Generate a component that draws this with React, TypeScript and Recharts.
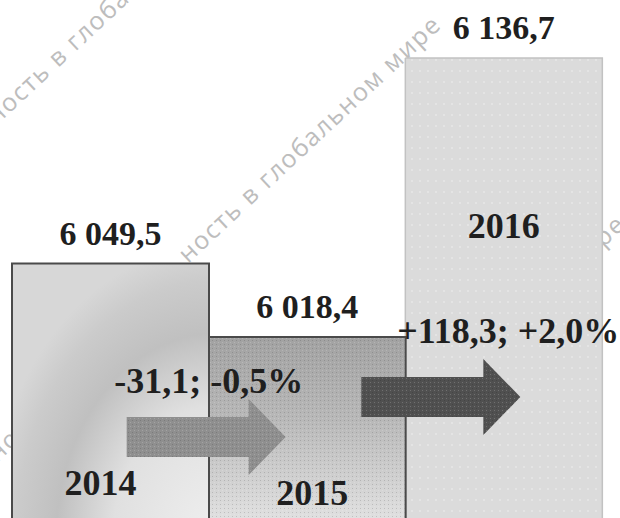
import React from 'react'
import { BarChart, Bar, XAxis, YAxis, LabelList, Customized } from 'recharts'

// Volume by year
const years = ['2014', '2015', '2016']
const volumes = [6049.5, 6018.4, 6136.7]
// year-on-year change: absolute and percent
const changeAbs = [-31.1, 118.3]
const changePct = [-0.5, 2.0]

const data = years.map((year, i) => ({ year, value: volumes[i] }))

const SERIF = "'Liberation Serif', 'Times New Roman', serif"
const TEXT = '#1f1f1f'

// layout of the year captions (baseline y, shift from bar centre) and the change arrows
const yearLabelPos: Record<string, { y: number; dx: number }> = {
  '2014': { y: 495, dx: -10 },
  '2015': { y: 505, dx: 5 },
  '2016': { y: 238, dx: 0 },
}
const arrowLayout = [
  { tipDx: 77, cyUp: 81, labelDx: 0, labelUp: 125, color: '#8f8f8f' },
  { tipDx: 115, cyUp: 121, labelDx: 103, labelUp: 175, color: '#505050' },
]

const barStyles = [
  { fill: 'url(#g2014)', texture: '', stroke: '#4a4a4a', width: 2 },
  { fill: 'url(#g2015)', texture: 'url(#dither)', stroke: '#4a4a4a', width: 2 },
  { fill: '#dbdbdb', texture: 'url(#dots)', stroke: '#c2c2c2', width: 1.5 },
]

const fmt = (v: number, sign = false) => {
  const [int, dec] = Math.abs(v).toFixed(1).split('.')
  const grouped = int.replace(/\B(?=(\d{3})+(?!\d))/g, ' ')
  const s = v < 0 ? '-' : sign ? '+' : ''
  return `${s}${grouped},${dec}`
}

const box = (p: any) => {
  const vb = p.viewBox ?? p
  return { x: Number(vb.x), y: Number(vb.y), w: Number(vb.width), h: Number(vb.height) }
}

const watermark = [
  { x: -4, y: 126, text: 'ность в глобальном мире', anchor: 'start' },
  { x: 188, y: 264, text: 'ность в глобальном мире', anchor: 'start' },
  { x: 627, y: 226, text: 'в глобальном мире', anchor: 'end' },
  { x: -3, y: 463, text: 'ность', anchor: 'start' },
]

const Defs = () => (
  <g>
    <defs>
      <radialGradient id="g2014" cx="1.03" cy="1.08" r="1.15">
        <stop offset="0" stopColor="#efefef" />
        <stop offset="0.45" stopColor="#e0e0e0" />
        <stop offset="0.7" stopColor="#c0c0c0" />
        <stop offset="0.88" stopColor="#cbcbcb" />
        <stop offset="1" stopColor="#d7d7d7" />
      </radialGradient>
      <linearGradient id="g2015" x1="0" y1="0" x2="0" y2="1">
        <stop offset="0" stopColor="#a2a2a2" />
        <stop offset="0.45" stopColor="#b8b8b8" />
        <stop offset="1" stopColor="#e0e0e0" />
      </linearGradient>
      <pattern id="dither" width="4" height="4" patternUnits="userSpaceOnUse">
        <rect x="0" y="0" width="1" height="1" fill="#000" fillOpacity="0.14" />
        <rect x="2" y="2" width="1" height="1" fill="#fff" fillOpacity="0.18" />
      </pattern>
      <pattern id="dots" width="8" height="11" patternUnits="userSpaceOnUse">
        <circle cx="4" cy="5" r="0.8" fill="#f0f0f0" />
      </pattern>
    </defs>
    {watermark.map((w, i) => (
      <text
        key={i}
        x={w.x}
        y={w.y}
        textAnchor={w.anchor as any}
        transform={`rotate(-43 ${w.x} ${w.y})`}
        fontFamily="'Open Sans', sans-serif"
        fontSize={25}
        letterSpacing={1.5}
        fill="#bdbdbd"
      >
        {w.text}
      </text>
    ))}
  </g>
)

const BarShape = (props: any) => {
  const { x, y, width, height, index } = props
  const s = barStyles[index]
  return (
    <g>
      <rect x={x} y={y} width={width} height={height} fill={s.fill} />
      {s.texture && <rect x={x} y={y} width={width} height={height} fill={s.texture} />}
      {index === 2 && (
        <line x1={x} y1={y} x2={x} y2={y + height} stroke={s.stroke} strokeWidth={s.width} />
      )}
    </g>
  )
}

const Outline = (props: any) => {
  const { x, y, w, h } = box(props)
  const s = barStyles[props.index]
  const d =
    props.index === 0
      ? `M${x},${y + h} V${y} H${x + w} V${y + h}`
      : `M${x},${y} H${x + w} V${y + h}`
  return <path d={d} fill="none" stroke={s.stroke} strokeWidth={s.width} />
}

const ChangeArrow = (props: any) => {
  const i = props.index - 1
  if (i < 0) return null
  const { x, y, h } = box(props)
  const a = arrowLayout[i]
  const bottom = y + h
  const tip = x + a.tipDx
  const cy = bottom - a.cyUp
  const tail = tip - 159
  const d = `M${tail},${cy - 20} H${tip - 37} V${cy - 38} L${tip},${cy} L${tip - 37},${cy + 38} V${cy + 20} H${tail} Z`
  return (
    <g>
      <path d={d} fill={a.color} />
      <path d={d} fill="url(#dither)" />
      <text
        x={x + a.labelDx}
        y={bottom - a.labelUp}
        textAnchor="middle"
        fontFamily={SERIF}
        fontWeight="bold"
        fontSize={36}
        fill={TEXT}
      >
        {`${fmt(changeAbs[i], true)}; ${fmt(changePct[i], true)}%`}
      </text>
    </g>
  )
}

const ValueLabel = (props: any) => {
  const { x, y, w } = box(props)
  return (
    <text
      x={x + w / 2}
      y={y - 19}
      textAnchor="middle"
      fontFamily={SERIF}
      fontWeight="bold"
      fontSize={34}
      fill={TEXT}
    >
      {fmt(Number(props.value))}
    </text>
  )
}

const YearLabel = (props: any) => {
  const { x, w } = box(props)
  const pos = yearLabelPos[props.value]
  return (
    <text
      x={x + w / 2 + pos.dx}
      y={pos.y}
      textAnchor="middle"
      fontFamily={SERIF}
      fontWeight="bold"
      fontSize={36}
      fill={TEXT}
    >
      {props.value}
    </text>
  )
}

export default function App() {
  return (
    <div style={{ position: 'absolute', left: 0, top: 0, width: 620, height: 518, background: '#fff' }}>
      <BarChart
        width={620}
        height={518}
        data={data}
        margin={{ top: 0, right: 18, bottom: 0, left: 12 }}
        barCategoryGap={0}
      >
        <Customized component={<Defs />} />
        <XAxis dataKey="year" hide />
        <YAxis hide domain={[5941.6, 6161.3]} allowDataOverflow />
        <Bar dataKey="value" shape={<BarShape />} isAnimationActive={false}>
          <LabelList dataKey="year" content={<Outline />} />
          <LabelList dataKey="year" content={<ChangeArrow />} />
          <LabelList dataKey="value" content={<ValueLabel />} />
          <LabelList dataKey="year" content={<YearLabel />} />
        </Bar>
      </BarChart>
    </div>
  )
}
